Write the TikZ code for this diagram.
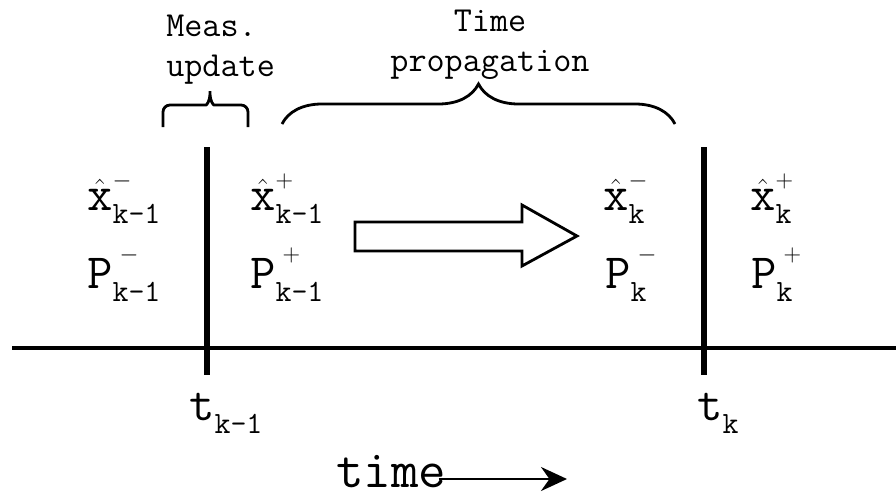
\documentclass[tikz,border=0pt]{standalone}
\usepackage{fontspec}
\usepackage{tikz}
\usetikzlibrary{arrows.meta, decorations.pathreplacing}
% base, sign (raised), index (lowered)
\newcommand{\estlabel}[4][0pt]{#2\rlap{\hspace{#1}\raisebox{16pt}{\fontsize{16}{16}\selectfont$#3$}}\raisebox{-9.5pt}{\fontsize{22}{22}\selectfont\ttfamily #4}}
\newcommand{\covlabel}[3]{#1\rlap{\hspace{5pt}\raisebox{18.5pt}{\fontsize{16}{16}\selectfont$#2$}}\raisebox{-9.5pt}{\fontsize{22}{22}\selectfont\ttfamily #3}}

\begin{document}
\begin{tikzpicture}[x=0.025cm, y=-0.025cm,
  caption/.style={font=\ttfamily\fontsize{25}{28}\selectfont, inner sep=0pt},
  est/.style={font=\ttfamily\fontsize{35}{40}\selectfont, anchor=base west, inner sep=0pt},
  epoch/.style={line width=4.3pt},
  axisline/.style={line width=3.4pt},
  curly/.style={decorate, decoration={brace, amplitude=1cm}, line width=2pt},
  bracket/.style={line width=2pt, rounded corners=5pt},
  blockarrow/.style={line width=2pt, line join=miter},
  timearrow/.style={-{Stealth[length=6.5mm, width=6mm]}, line width=1.8pt},
]
\useasboundingbox (0,0) rectangle (896,496);

% Time axis and epochs
\draw[axisline] (12,348) -- (896,348);
\draw[epoch] (207,147) -- (207,375);
\draw[epoch] (704,147) -- (704,375);

% Epoch labels
\node[est] (tkm1) at (189,420) {\estlabel{t}{}{k\textendash 1}};
\node[est] (tk)   at (697,420) {\estlabel{t}{}{k}};

% Estimates
\node[est] (xm1) at (87,210)  {\estlabel{$\hat{\mathtt{x}}$}{-}{k\textendash 1}};
\node[est] (Pm1) at (87,288)  {\covlabel{P}{-}{k\textendash 1}};
\node[est] (xp1) at (250,210) {\estlabel{$\hat{\mathtt{x}}$}{+}{k\textendash 1}};
\node[est] (Pp1) at (250,288) {\covlabel{P}{+}{k\textendash 1}};
\node[est] (xmk) at (603,210) {\estlabel{$\hat{\mathtt{x}}$}{-}{k}};
\node[est] (Pmk) at (605,288) {\covlabel{P}{-}{k}};
\node[est] (xpk) at (750,210) {\estlabel{$\hat{\mathtt{x}}$}{+}{k}};
\node[est] (Ppk) at (751,288) {\covlabel{P}{+}{k}};

% Propagation arrow
\draw[blockarrow] (355,222) -- (522,222) -- (522,205) -- (577,236)
  -- (522,266) -- (522,251) -- (355,251) -- cycle;

% Phases
\node[caption, align=left, anchor=north west] (meas) at (166,15) {Meas.\\update};
\node[caption, align=center, anchor=north] (prop) at (490,10) {Time\\propagation};
\draw[bracket] (163,127) -- (163,105) -- (199,105)
  .. controls (207,105) and (210,100) .. (210,87)
  .. controls (210,100) and (213,105) .. (221,105) -- (248,105) -- (248,127);
\draw[curly] (282,124) -- (675,124);

% Time direction
\node[font=\ttfamily\fontsize{38}{40}\selectfont, anchor=base west, inner sep=0pt, text depth=0pt] (time) at (336,487) {time};
\coordinate (timeend) at (567,479);
\draw[timearrow] ([shift={(-8,-8)}]time.base east) -- (timeend);

\end{tikzpicture}
\end{document}
